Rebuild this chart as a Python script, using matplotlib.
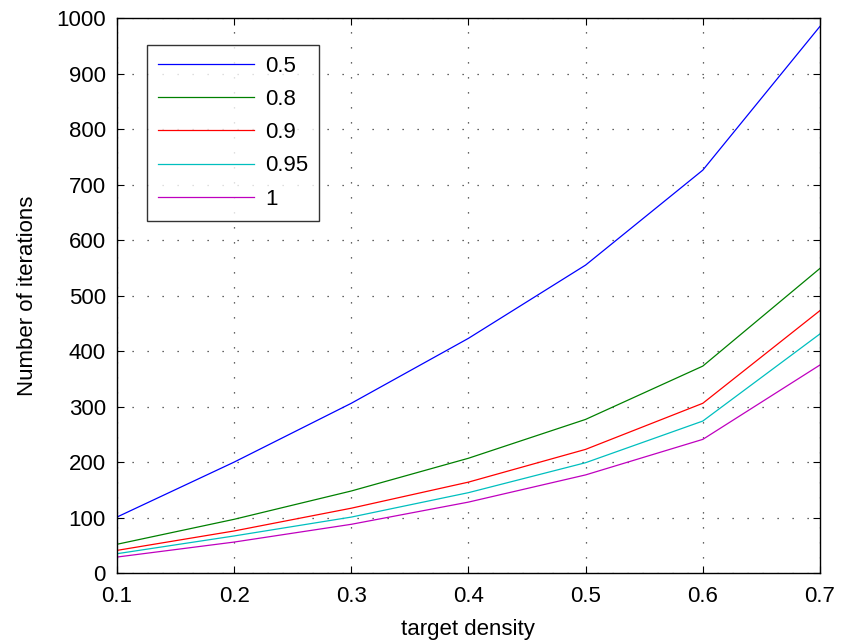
import matplotlib
matplotlib.use("Agg")
import matplotlib.pyplot as plt

density = [0.1, 0.2, 0.3, 0.4, 0.5, 0.6, 0.7]
labels = ["0.5", "0.8", "0.9", "0.95", "1"]
iters_05 = [101, 200, 306, 423, 555, 726, 985]
iters_08 = [52, 97, 148, 207, 277, 373, 549]
iters_09 = [41, 76, 117, 164, 223, 306, 473]
iters_095 = [35, 67, 101, 145, 199, 274, 431]
iters_1 = [29, 56, 88, 128, 177, 241, 375]

colors = [(0, 0, 1), (0, 0.5, 0), (1, 0, 0), (0, 0.75, 0.75), (0.75, 0, 0.75)]

plt.rcParams['font.family'] = ['Liberation Sans', 'DejaVu Sans']
plt.rcParams['font.size'] = 16

fig = plt.figure(figsize=(8.41, 6.44), dpi=100)
ax = fig.add_axes([0.139, 0.110, 0.836, 0.862])

series = [iters_05, iters_08, iters_09, iters_095, iters_1]
for ys, lab, c in zip(series, labels, colors):
    ax.plot(density, ys, color=c, linewidth=0.9, label=lab)

ax.set_xlim(0.1, 0.7)
ax.set_ylim(0, 1000)
ax.set_xticks(density)
ax.set_xticklabels(["0.1", "0.2", "0.3", "0.4", "0.5", "0.6", "0.7"])
ax.set_yticks(range(0, 1001, 100))
ax.tick_params(direction='in', top=True, right=True, length=5, width=0.8, labelsize=16)
ax.tick_params(axis='x', pad=9)
ax.tick_params(axis='y', pad=8)
ax.grid(True, linestyle=(0, (1, 11)), color='0.2', linewidth=0.9)
for s in ax.spines.values():
    s.set_linewidth(1.0)

ax.set_xlabel("target density", fontsize=16, labelpad=9)
ax.set_ylabel("Number of iterations", fontsize=16, labelpad=13)

leg = ax.legend(loc='upper left', bbox_to_anchor=(0.043, 0.952), fontsize=16,
                frameon=True, fancybox=False, handlelength=4.3, handletextpad=0.5,
                labelspacing=0.55, borderpad=0.5, borderaxespad=0)
leg.get_frame().set_edgecolor('black')
leg.get_frame().set_linewidth(1.0)

fig.savefig("out.png", dpi=100)
